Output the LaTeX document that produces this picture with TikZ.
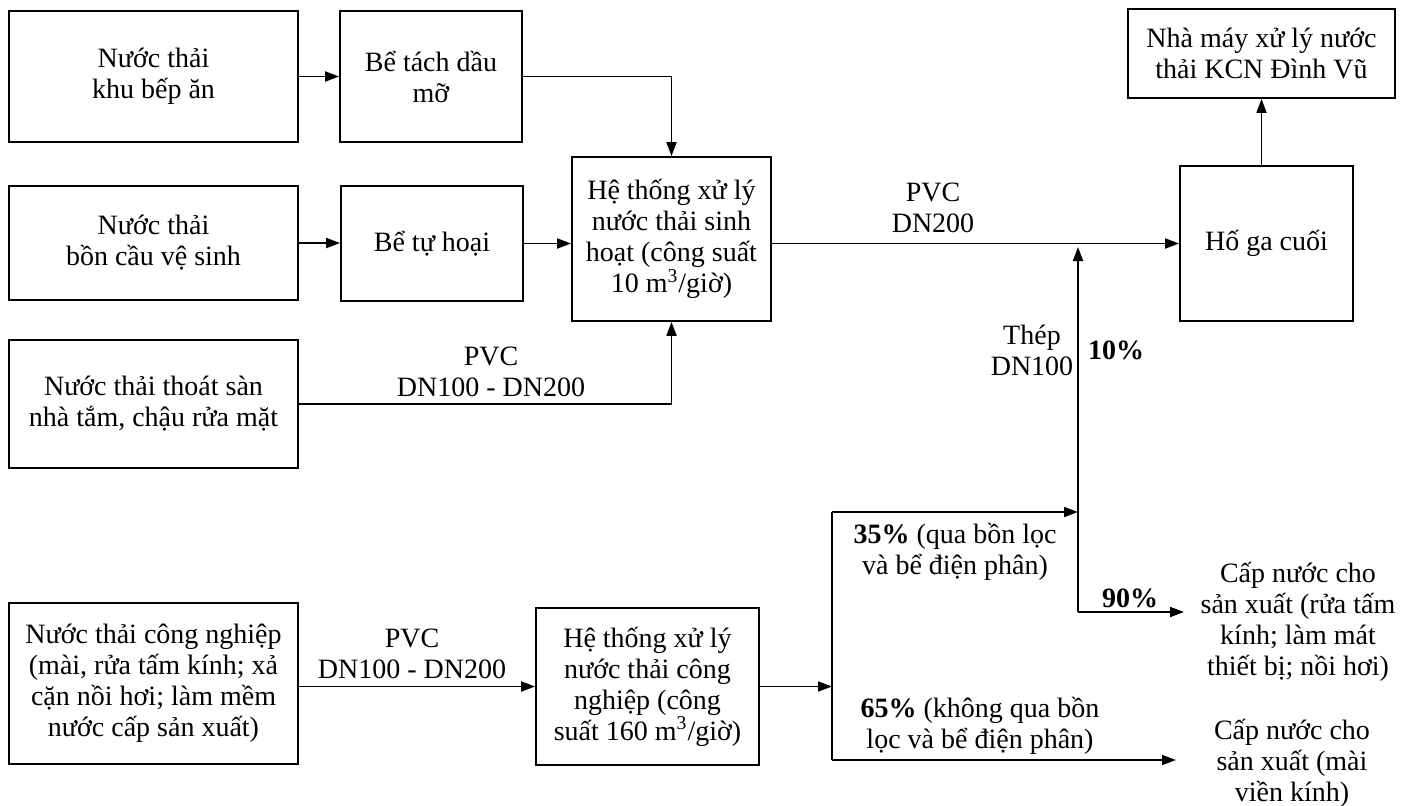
\documentclass[tikz,border=0pt]{standalone}
\usepackage{fontspec}
\setmainfont{Liberation Serif}
\usetikzlibrary{arrows.meta,positioning}

\begin{document}
\begin{tikzpicture}[x=0.5pt,y=-0.5pt,
  every node/.style={font=\fontsize{14}{15.5}\selectfont,align=center},
  box/.style={draw,line width=0.9pt,inner sep=2pt},
  flow/.style={line width=0.9pt,-{Triangle[length=7pt,width=5pt]}},
  pipe/.style={line width=0.9pt}]
\useasboundingbox (0,0) rectangle (1415,805);
% domestic sources
\node[box,minimum width=144.5pt,minimum height=65.5pt] (kitchen) at (153.5,76.5) {Nước thải\\khu bếp ăn};
\node[box,minimum width=91pt,minimum height=65.5pt] (grease) at (431,76.5) {Bể tách dầu\\mỡ};
\node[box,minimum width=144.5pt,minimum height=57pt] (toilet) at (153.5,243) {Nước thải\\bồn cầu vệ sinh};
\node[box,minimum width=91pt,minimum height=57.5pt] (septic) at (432,243.5) {Bể tự hoại};
\node[box,minimum width=144.5pt,minimum height=64pt] (floor) at (153.5,404) {Nước thải thoát sàn\\nhà tắm, chậu rửa mặt};
\node[box,minimum width=99.5pt,minimum height=82pt] (domestic) at (671.5,239) {Hệ thống xử lý\\nước thải sinh\\hoạt (công suất\\10 m\textsuperscript{3}/giờ)};
\node[box,minimum width=86.5pt,minimum height=77.5pt] (pit) at (1266.5,243.5) {Hố ga cuối};
\node[box,minimum width=133.5pt,minimum height=44.5pt] (plant) at (1261.5,53.5) {Nhà máy xử lý nước\\thải KCN Đình Vũ};
% industrial line
\node[box,minimum width=144.5pt,minimum height=80.5pt] (industrial) at (153.5,683.5) {Nước thải công nghiệp\\(mài, rửa tấm kính; xả\\cặn nồi hơi; làm mềm\\nước cấp sản xuất)};
\node[box,minimum width=111.5pt,minimum height=78.5pt] (indplant) at (647.5,686.5) {Hệ thống xử lý\\nước thải công\\nghiệp (công\\suất 160 m\textsuperscript{3}/giờ)};
\node (reuse) at (1298,622) {Cấp nước cho\\sản xuất (rửa tấm\\kính; làm mát\\thiết bị; nồi hơi)};
\node (grind) at (1292,763) {Cấp nước cho\\sản xuất (mài\\viền kính)};

\coordinate (split) at (832,686.5);
\coordinate (splittop) at (832,512);
\coordinate (splitbot) at (832,760);
\coordinate (mix) at (1078,512);
\coordinate (ret) at (1078,612);
\coordinate (join) at (1078,247);
\coordinate (reusein) at (1184,612);
\coordinate (grindin) at (1176,760);

% connectors
\draw[flow] (kitchen) -- (grease);
\draw[flow] (toilet.east) -- (toilet.east -| septic.west);
\draw[flow] (septic.east) -- (septic.east -| domestic.west);
\draw[flow] (grease.east) -| (domestic.north);
\draw[flow] (floor.east) -| (domestic.south);
\draw[flow] (domestic.east |- pit.west) -- (pit.west);
\draw[flow] (pit.north -| plant.south) -- (plant.south);
\draw[flow] (industrial.east |- indplant.west) -- (indplant.west);
\draw[flow] (indplant.east) -- (split);
\draw[pipe] (splittop) -- (splitbot);
\draw[flow] (splittop) -- (mix);
\draw[flow] (ret) -- (join);
\draw[flow] (ret) -- (reusein);
\draw[flow] (splitbot) -- (grindin);

% labels
\node (pvcfloor) at (491,372) {PVC\\DN100 - DN200};
\node (pvcmain) at (933,208) {PVC\\DN200};
\node (steel) at (1032,350) {Thép\\DN100};
\node (ten) at (1116,350) {\textbf{10\%}};
\node (filt) at (955,552) {\textbf{35\%} (qua bồn lọc\\và bể điện phân)};
\node (ninety) at (1130,598) {\textbf{90\%}};
\node (nofilt) at (980,726) {\textbf{65\%} (không qua bồn\\lọc và bể điện phân)};
\node (pvcind) at (412,654) {PVC\\DN100 - DN200};
\end{tikzpicture}
\end{document}
